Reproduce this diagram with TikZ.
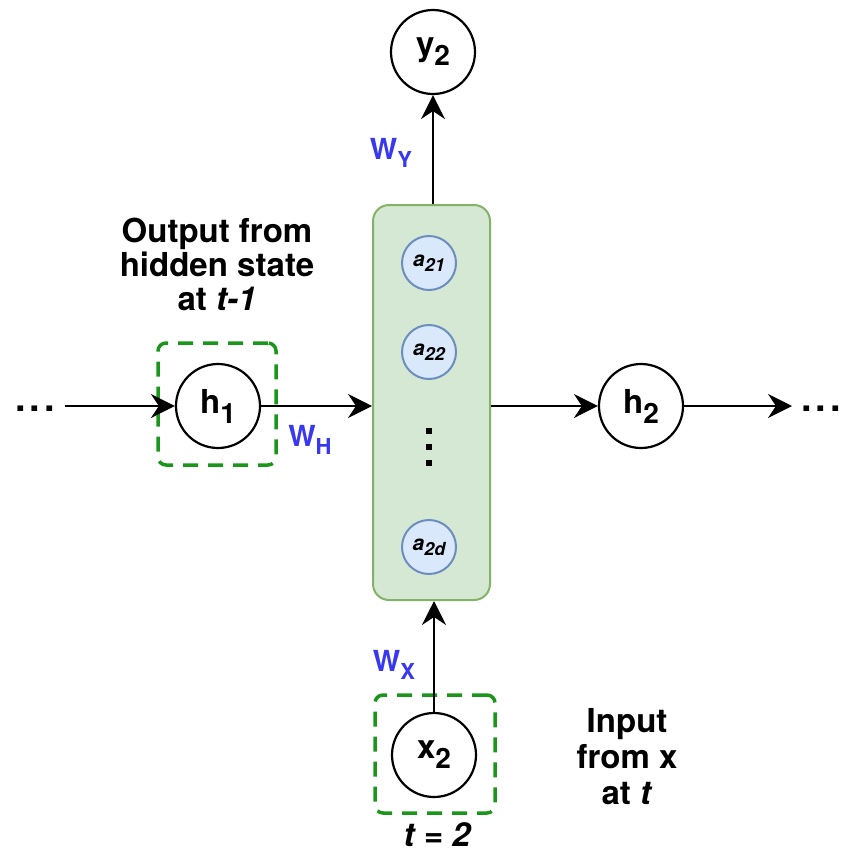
\documentclass[tikz,border=0pt]{standalone}
\usepackage{fontspec}
\setmainfont{TeX Gyre Heros}
\usetikzlibrary{arrows.meta}

\definecolor{cellfill}{HTML}{D5E8D4}
\definecolor{celldraw}{HTML}{82B366}
\definecolor{unitfill}{HTML}{DAE8FC}
\definecolor{unitdraw}{HTML}{6C8EBF}
\definecolor{framegreen}{HTML}{1A961A}
\definecolor{weightblue}{HTML}{3838F0}

\newcommand{\fsz}[1]{\fontsize{#1}{#1}\selectfont}
% state label: big bold letter with a lowered subscript
\newcommand{\statelbl}[2]{{\fsz{33}\bfseries #1\raisebox{-10pt}{\fsz{28}#2}}}
% weight label in blue
\newcommand{\weightlbl}[1]{{\fsz{29}\bfseries\color{weightblue}W\raisebox{-8pt}{\fsz{22}#1}}}
% hidden unit label
\newcommand{\unitlbl}[1]{{\fsz{21}\bfseries\itshape a\raisebox{-5pt}{\fsz{18}#1}}}
% trailing dots
\newcommand{\moredots}{{\fsz{38}\bfseries .\hspace{4pt}.\hspace{4pt}.}}

\begin{document}
\begin{tikzpicture}[x=1pt,y=-1pt,
  state/.style={circle,draw,line width=2.2pt,minimum size=84pt,inner sep=0pt,fill=white},
  unit/.style={circle,draw=unitdraw,fill=unitfill,line width=2pt,minimum size=54pt,inner sep=0pt},
  frame box/.style={draw=framegreen,line width=3.5pt,dash pattern=on 15pt off 10pt,rounded corners=8pt,inner sep=0pt},
  link/.style={line width=2.2pt,-{Stealth[length=24pt,width=24pt,inset=8pt]}},
  note/.style={align=center,font=\fontsize{33}{34}\selectfont\bfseries}]

\useasboundingbox (0,0) rectangle (842,854);

% recurrent cell with its hidden units
\node[draw=celldraw,fill=cellfill,line width=2pt,rounded corners=16pt,
      minimum width=117pt,minimum height=395pt,inner sep=0pt] (cell) at (431.5,402.5) {};
\node[unit] (a21) at (429,263) {\unitlbl{21}};
\node[unit] (a22) at (429,352) {\unitlbl{22}};
\node[unit] (a2d) at (429,547) {\unitlbl{2d}};
\foreach \yy in {431,447,463}
  \fill (426,\yy-3) rectangle (432,\yy+3);

% states
\node[frame box,minimum width=118pt,minimum height=122pt] (hframe) at (217,404) {};
\node[state] (h1) at (218,406) {\statelbl{h}{1}};
\node[state] (h2) at (641,406) {\statelbl{h}{2}};
\node[state] (y2) at (433,52) {\statelbl{y}{2}};
\node[frame box,minimum width=120pt,minimum height=118pt] (xframe) at (435,754) {};
\node[state] (x2) at (434,755) {\statelbl{x}{2}};

% continuation dots
\node[inner sep=0pt,anchor=base] (ldots) at (35,411) {\moredots};
\node[inner sep=0pt,anchor=base east] (rdots) at (841,411) {\moredots};
\coordinate (lstart) at (65,406);
\coordinate (rend) at (792,406);

% connections
\draw[link] (lstart) -- (h1);
\draw[link] (h1) -- (h1 -| cell.west);
\draw[link] (h1 -| cell.east) -- (h2);
\draw[link] (h2) -- (rend);
\draw[link] (y2 |- cell.north) -- (y2);
\draw[link] (x2) -- (x2 |- cell.south);

% weights
\node (wh) at (310,440) {\weightlbl{H}};
\node (wy) at (391,153) {\weightlbl{Y}};
\node (wx) at (394,665) {\weightlbl{X}};

% annotations
\node[note] (outnote) at (217,264) {Output from\\hidden state\\at \textit{t-1}};
\node[note,font=\fontsize{33}{36}\selectfont\bfseries] (innote) at (627,757) {Input\\from x\\at \textit{t}};
\node[font=\fsz{33}\bfseries\itshape] (tlabel) at (437,835) {t = 2};
\end{tikzpicture}
\end{document}
